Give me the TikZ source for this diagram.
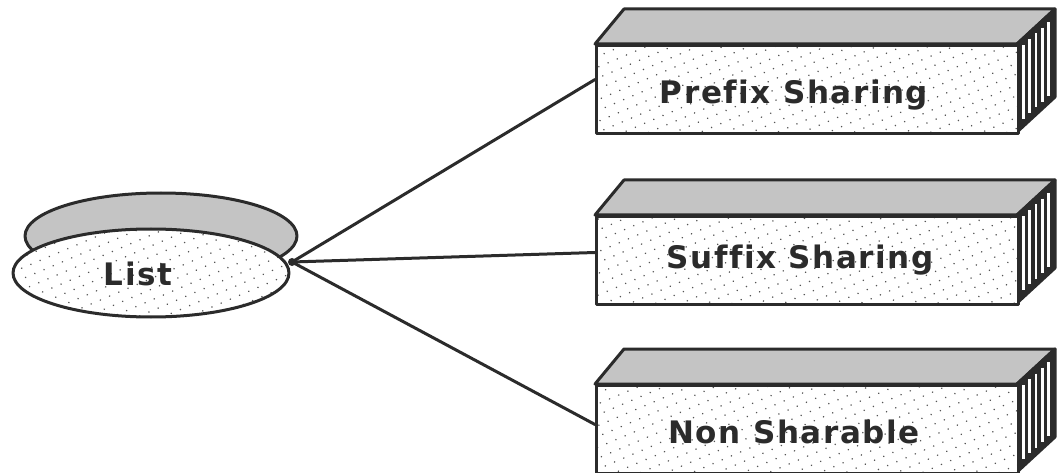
\documentclass[tikz,border=0pt]{standalone}
\usepackage{fontspec}
\setmainfont{DejaVu Sans}
\usetikzlibrary{patterns.meta,shapes.geometric}
\definecolor{ink}{HTML}{2B2B2B}
\definecolor{lid}{HTML}{C4C4C4}
\begin{document}
\begin{tikzpicture}[x=1pt,y=-1pt,
  outline/.style={draw=ink, line width=3pt, line join=round},
  stipple/.style={pattern={Dots[distance=10pt,radius=0.85pt,angle=23]}, pattern color=ink!80},
  face/.style={outline, preaction={fill=white}, stipple, rectangle,
    minimum width=422pt, minimum height=88pt, inner sep=0pt, anchor=north west},
  caption/.style={font=\bfseries\fontsize{31}{31}\selectfont\addfontfeature{LetterSpace=5,Ligatures=NoCommon}, text=ink},
  link/.style={draw=ink, line width=3pt, line cap=round}]
\useasboundingbox (0,0) rectangle (1063,473);

% the "List" disc: grey lid behind, stippled front
\filldraw[outline, fill=lid] (161,236) ellipse[x radius=136pt, y radius=43pt];
\node[ellipse, outline, preaction={fill=white}, stipple, inner sep=0pt,
  minimum width=276pt, minimum height=88pt] (list) at (151,273) {};
\node[caption] (listtxt) at (138,274) {List};
\coordinate (hub) at (292,262);

% three boxes: grey top, slotted right side, stippled front
\foreach \nm/\t/\txt/\tx/\ty in {pre/44/Prefix Sharing/794/95,
                                  suf/215/Suffix Sharing/800/260,
                                  non/384/Non Sharable/794/432}{
  \filldraw[outline, fill=lid] (595,\t) -- (624,{\t-35}) -- (1055,{\t-35}) -- (1017,\t) -- cycle;
  \filldraw[outline, fill=ink] (1017,\t) -- (1055,{\t-35}) -- (1055,{\t+53}) -- (1017,{\t+88}) -- cycle;
  \foreach \k in {1,...,5}{
    \pgfmathsetmacro{\sx}{1017+38*\k/6}
    \pgfmathsetmacro{\sy}{35*\k/6}
    \draw[white, line width=2.6pt] (\sx,{\t-\sy+7}) -- (\sx,{\t+88-\sy-7});
  }
  \node[face] (\nm) at (595,\t) {};
  \node[caption] (\nm txt) at (\tx,\ty) {\txt};
}

% connectors from the disc to each box
\draw[link] (hub) -- ([yshift=10pt]pre.west);
\draw[link] (hub) -- ([yshift=8pt]suf.west);
\draw[link] (hub) -- ([yshift=5pt]non.west);
\fill[ink] (hub) circle[radius=4pt];
\end{tikzpicture}
\end{document}
